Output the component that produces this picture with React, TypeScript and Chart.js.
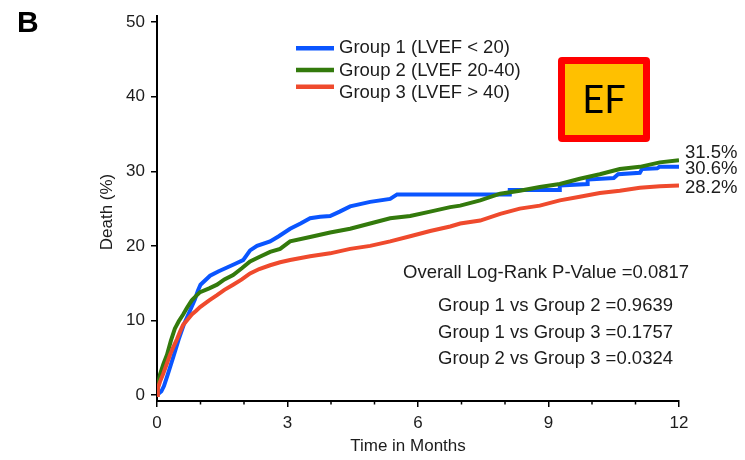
import { useEffect, useRef } from 'react';
import { Chart, registerables } from 'chart.js';

Chart.register(...registerables);

// ---- data ----
const g1Months = [0, 0.1, 0.16, 0.25, 0.38, 0.5, 0.62, 0.75, 0.87, 0.94, 1.0, 1.22, 1.42, 1.61, 1.8, 1.98, 2.14, 2.3, 2.6, 2.8, 3.06, 3.3, 3.52, 3.75, 3.98, 4.2, 4.44, 4.9, 5.36, 5.52, 8.11, 8.11, 9.26, 9.26, 9.9, 9.9, 10.5, 10.6, 11.1, 11.15, 11.5, 11.55, 12];
const g1Death = [0, 0.5, 1.2, 2.8, 5.2, 7.5, 9.5, 11.2, 12.8, 14.0, 14.8, 16.0, 16.6, 17.1, 17.6, 18.1, 19.4, 20.0, 20.6, 21.3, 22.3, 23.0, 23.7, 23.9, 24.0, 24.6, 25.3, 25.9, 26.3, 26.9, 26.9, 27.5, 27.5, 28.1, 28.3, 28.9, 29.1, 29.6, 29.8, 30.3, 30.4, 30.6, 30.6];

const g2Months = [0, 0.03, 0.07, 0.15, 0.23, 0.32, 0.41, 0.5, 0.6, 0.7, 0.8, 0.9, 0.99, 1.2, 1.38, 1.55, 1.75, 1.95, 2.14, 2.35, 2.6, 2.83, 3.06, 3.52, 3.98, 4.44, 4.9, 5.36, 5.82, 6.28, 6.74, 6.97, 7.43, 7.89, 8.34, 8.8, 9.26, 9.72, 10.18, 10.64, 11.1, 11.56, 12];
const g2Death = [0, 1.5, 2.8, 4.2, 5.4, 7.3, 8.9, 9.9, 10.8, 11.8, 12.7, 13.3, 13.8, 14.3, 14.8, 15.5, 16.1, 17.0, 17.9, 18.5, 19.2, 19.6, 20.6, 21.2, 21.8, 22.3, 23.0, 23.7, 24.0, 24.6, 25.2, 25.4, 26.1, 27.0, 27.4, 27.9, 28.3, 29.0, 29.6, 30.3, 30.6, 31.2, 31.5];

const g3Months = [0, 0.02, 0.07, 0.14, 0.22, 0.3, 0.38, 0.46, 0.53, 0.6, 0.7, 0.8, 0.9, 0.99, 1.2, 1.38, 1.55, 1.75, 1.95, 2.14, 2.35, 2.6, 2.83, 3.06, 3.52, 3.98, 4.44, 4.9, 5.36, 5.82, 6.28, 6.74, 6.97, 7.43, 7.89, 8.34, 8.8, 9.26, 9.72, 10.18, 10.64, 11.1, 11.56, 12];
const g3Death = [0, 0.9, 1.8, 2.8, 4.1, 5.4, 6.5, 7.5, 8.5, 9.4, 10.1, 10.8, 11.3, 11.8, 12.7, 13.4, 14.1, 14.8, 15.5, 16.3, 16.9, 17.4, 17.8, 18.1, 18.6, 19.0, 19.6, 20.0, 20.6, 21.3, 22.0, 22.6, 23.0, 23.4, 24.3, 25.0, 25.4, 26.1, 26.6, 27.1, 27.4, 27.8, 28.0, 28.1];

const seriesLabels = ['Group 1 (LVEF < 20)', 'Group 2 (LVEF 20-40)', 'Group 3 (LVEF > 40)'];
const seriesColors = ['#0a55ff', '#337a0c', '#ef4a2d'];
const endLabels = ['31.5%', '30.6%', '28.2%'];
const pValueLines = [
  'Overall Log-Rank P-Value =0.0817',
  'Group 1 vs Group 2 =0.9639',
  'Group 1 vs Group 3 =0.1757',
  'Group 2 vs Group 3 =0.0324',
];
const xTickValues = [0, 1, 2, 3, 4, 5, 6, 7, 8, 9, 10, 11, 12];
const yTickValues = [0, 10, 20, 30, 40, 50];
const xTitle = 'Time in Months';
const yTitle = 'Death (%)';
const panelLetter = 'B';
const boxLabel = 'EF';

const FONT = '"Liberation Sans", Arial, Helvetica, sans-serif';
const TEXT = '#1c1c1c';

const toPoints = (xs: number[], ys: number[]) => xs.map((x, i) => ({ x, y: ys[i] }));

const overlay = {
  id: 'overlay',
  afterDraw(chart: any) {
    const ctx = chart.ctx as CanvasRenderingContext2D;
    const xs = chart.scales.x;
    const area = chart.chartArea;
    ctx.save();

    // minor x ticks
    ctx.strokeStyle = '#000';
    ctx.lineWidth = 1.5;
    for (const t of xTickValues) {
      if (t % 3 === 0) continue;
      const px = xs.getPixelForValue(t);
      ctx.beginPath();
      ctx.moveTo(px, area.bottom);
      ctx.lineTo(px, area.bottom + 3.5);
      ctx.stroke();
    }

    // panel letter
    ctx.fillStyle = '#000';
    ctx.font = `bold 30px ${FONT}`;
    ctx.textAlign = 'left';
    ctx.textBaseline = 'alphabetic';
    ctx.fillText(panelLetter, 17, 32);

    // legend
    const legLineY = [48.3, 70, 86.7];
    const legTextY = [53, 76, 98];
    ctx.font = `18.5px ${FONT}`;
    seriesLabels.forEach((lab, i) => {
      ctx.strokeStyle = seriesColors[i];
      ctx.lineWidth = 4.5;
      ctx.beginPath();
      ctx.moveTo(296, legLineY[i]);
      ctx.lineTo(334, legLineY[i]);
      ctx.stroke();
      ctx.fillStyle = TEXT;
      ctx.fillText(lab, 339, legTextY[i]);
    });

    // end labels
    const endY = [158, 174, 193];
    endLabels.forEach((lab, i) => {
      ctx.fillText(lab, area.right + 6, endY[i]);
    });

    // p-values
    const pX = [403, 438, 438, 438];
    const pY = [278, 311, 338, 364];
    pValueLines.forEach((lab, i) => ctx.fillText(lab, pX[i], pY[i]));

    // axis titles
    ctx.font = `17px ${FONT}`;
    ctx.textAlign = 'center';
    ctx.textBaseline = 'middle';
    ctx.fillText(xTitle, 408, 446);
    ctx.save();
    ctx.translate(107, 212);
    ctx.rotate(-Math.PI / 2);
    ctx.fillText(yTitle, 0, 0);
    ctx.restore();

    // EF box
    const bx = 558, by = 57, bw = 92, bh = 85, bt = 7;
    ctx.fillStyle = '#ff0000';
    ctx.beginPath();
    (ctx as any).roundRect ? (ctx as any).roundRect(bx, by, bw, bh, 4) : ctx.rect(bx, by, bw, bh);
    ctx.fill();
    ctx.fillStyle = '#ffc000';
    ctx.fillRect(bx + bt, by + bt, bw - 2 * bt, bh - 2 * bt);
    ctx.fillStyle = '#000';
    ctx.font = `38px Lato, ${FONT}`;
    ctx.textAlign = 'center';
    ctx.textBaseline = 'middle';
    ctx.fillText(boxLabel, bx + bw / 2, by + bh / 2 + 1);

    ctx.restore();
  },
};

export default function App() {
  const ref = useRef<HTMLCanvasElement | null>(null);

  useEffect(() => {
    if (!ref.current) return;
    const chart = new Chart(ref.current, {
      type: 'line',
      data: {
        datasets: [
          { label: seriesLabels[0], data: toPoints(g1Months, g1Death), borderColor: seriesColors[0], order: 2 },
          { label: seriesLabels[1], data: toPoints(g2Months, g2Death), borderColor: seriesColors[1], order: 1 },
          { label: seriesLabels[2], data: toPoints(g3Months, g3Death), borderColor: seriesColors[2], order: 0 },
        ].map((d) => ({ ...d, borderWidth: 4, pointRadius: 0, fill: false, tension: 0, borderCapStyle: 'butt' as const, borderJoinStyle: 'miter' as const })),
      },
      options: {
        responsive: false,
        devicePixelRatio: 1,
        animation: false,
        layout: { padding: { left: 0, top: 13, right: 66, bottom: 0 } },
        plugins: { legend: { display: false }, tooltip: { enabled: false } },
        scales: {
          x: {
            type: 'linear',
            min: 0,
            max: 12,
            afterBuildTicks: (s: any) => { s.ticks = xTickValues.map((v) => ({ value: v })); },
            afterFit: (s: any) => { s.height = 59; },
            ticks: {
              autoSkip: false,
              maxRotation: 0,
              padding: 6,
              color: TEXT,
              font: { family: FONT, size: 17 },
              callback: (v: any) => (Number(v) % 3 === 0 ? String(v) : ''),
            },
            grid: {
              drawOnChartArea: false,
              drawTicks: true,
              tickLength: 6,
              lineWidth: 1.5,
              color: (c: any) => (c.tick && c.tick.value % 3 === 0 ? '#000' : 'rgba(0,0,0,0)'),
            },
            border: { display: true, color: '#000', width: 2 },
          },
          y: {
            type: 'linear',
            min: -0.8,
            max: 50.8,
            afterBuildTicks: (s: any) => { s.ticks = yTickValues.map((v) => ({ value: v })); },
            afterFit: (s: any) => { s.width = 157; },
            ticks: {
              padding: 6,
              color: TEXT,
              font: { family: FONT, size: 17 },
            },
            grid: { drawOnChartArea: false, drawTicks: true, tickLength: 6, lineWidth: 1.5, color: '#000' },
            border: { display: true, color: '#000', width: 2 },
          },
        },
      },
      plugins: [overlay],
    });
    return () => chart.destroy();
  }, []);

  return (
    <div style={{ position: 'absolute', left: 0, top: 0, width: 745, height: 460, background: '#fff' }}>
      <canvas ref={ref} width={745} height={460} style={{ display: 'block', width: 745, height: 460 }} />
    </div>
  );
}
